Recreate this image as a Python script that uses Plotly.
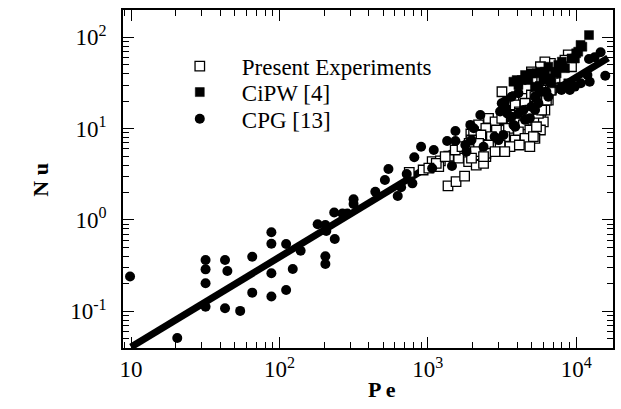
import plotly.graph_objects as go

# ---- data ----
pe_present = [750, 930, 1070, 1215, 1383, 1614, 1900, 1950, 1744, 1884, 2120, 1185, 1614, 2198,
              2460, 2375, 1368, 1550, 1770, 1140, 1310, 1530, 1700, 3970, 4408, 4990, 5400, 5740,
              3496, 3880, 4640, 5400, 6005, 3300, 3670, 4140, 4990, 5740, 2566, 2840, 3150, 3880,
              4408, 5270, 6005, 2198, 2460, 2900, 3496, 4080, 4870, 5740, 2035, 2280, 2680, 3300,
              3880, 4520, 5270, 1970, 2198, 2566, 3070, 3580, 4140, 4870, 2090, 2460, 2840, 3300,
              1970, 2375, 3160, 6300, 8840, 8400, 5850, 7200, 9300, 6800, 6150, 5270, 5740, 4520,
              4870, 4140, 5560, 6150, 6488, 6700, 6300, 7010, 6488, 6150, 6800, 6150, 5740, 4990,
              5145, 5400, 5850, 6300, 6700, 1016]
nu_present = [3.33, 3.53, 4.35, 4.45, 5.0, 5.84, 6.9, 8.75, 5.15, 4.35, 4.0, 3.85, 4.75, 5.15,
              4.95, 4.18, 2.36, 2.63, 3.03, 4.18, 4.95, 5.84, 6.35, 22.4, 21.5, 23.4, 27.8, 23.4,
              19.8, 18.2, 18.2, 18.2, 19.0, 16.0, 14.1, 15.3, 15.3, 14.7, 13.0, 11.9, 13.0, 11.9,
              11.0, 11.9, 11.9, 11.0, 10.1, 9.68, 10.1, 9.25, 9.68, 9.68, 9.25, 8.53, 8.17, 8.17,
              7.52, 7.85, 7.85, 7.52, 6.9, 6.63, 6.63, 6.35, 6.63, 6.35, 5.6, 5.38, 5.6, 5.6,
              4.75, 4.95, 25.4, 52, 64.2, 56.5, 35.6, 35.6, 47.7, 26.5, 22.4, 22.4, 28.8, 19.0,
              16.0, 14.7, 14.7, 16.0, 20.6, 52, 43.9, 40.4, 32.7, 26.5, 27.8, 54, 47.7, 42,
              8.17, 10.5, 16, 20.6, 26.5, 3.7]

pe_cipw = [12200, 11000, 10318, 9800, 10700, 10000, 9300, 8000, 7573, 7380, 6488, 6150, 5740,
           5400, 4990, 4762, 4290, 3970, 3776, 4080, 6005, 6700, 6800, 8000, 8840, 5270, 5740,
           8400, 7200, 4520]
nu_cipw = [106, 79, 69.7, 58.8, 82.6, 67, 58.8, 54.2, 49.8, 40.4, 47.7, 42, 42,
           40.4, 40.4, 34.1, 34.1, 34.1, 32.7, 30.1, 34.1, 35.6, 31.4, 28.8, 31.4, 28.8, 25.4,
           46, 42, 38.7]

pe_cpg = [9.85, 20.5, 31.8, 31.8, 31.8, 31.8, 43, 44.6, 43, 54.4, 65.6, 65.6, 88.3, 88.3, 88.3,
          88.3, 111, 111, 123, 139, 181, 204, 207, 204, 204, 236, 234, 266, 287, 316, 316, 443,
          514, 543, 627, 661, 721, 787, 811, 901, 1070, 1097, 1350, 1535, 1535, 1455, 1790, 1820,
          1935, 2040, 1970, 2260, 2375, 2820, 2995, 3070, 3150, 3236, 3300, 3310, 3430, 3670,
          3670, 3780, 3880, 4080, 4080, 4080, 4408, 4520, 4870, 4990, 5270, 5280, 5560, 5560,
          6300, 6488, 7960, 9060, 9790, 10740, 11900, 12200, 12330, 13300, 14600, 15700]
nu_cpg = [0.24, 0.051, 0.365, 0.288, 0.203, 0.112, 0.365, 0.276, 0.108, 0.101, 0.396, 0.16, 0.733,
          0.55, 0.261, 0.145, 0.546, 0.171, 0.29, 0.46, 0.90, 0.88, 0.76, 0.40, 0.33, 0.62, 1.21,
          1.18, 1.18, 1.69, 1.50, 2.04, 2.74, 3.62, 1.83, 2.28, 3.19, 2.52, 4.86, 6.35, 3.68, 5.85,
          7.33, 9.44, 7.33, 3.9, 6.63, 5.6, 11.0, 10.1, 7.52, 14.1, 6.35, 8.17, 7.5, 15.4, 19.0,
          8.53, 17.4, 19.8, 14.7, 13.5, 22.4, 11.0, 10.5, 31.4, 24.5, 14.7, 16.0, 12.5, 13.0,
          17.4, 22.4, 16, 19.0, 28.8, 25.4, 22.4, 26.5, 26.5, 28.9, 31.4, 38.7, 58, 32.7, 60.5,
          68.6, 38]

pe_fit = [10, 16400]
nu_fit = [0.0406, 59.6]

x_tickvals = [10, 100, 1000, 10000]
x_ticktext = ["10", "10<sup>2</sup>", "10<sup>3</sup>", "10<sup>4</sup>"]
y_tickvals = [0.1, 1, 10, 100]
y_ticktext = ["10<sup>-1</sup>", "10<sup>0</sup>", "10<sup>1</sup>", "10<sup>2</sup>"]

legend_names = ["Present Experiments", "CiPW [4]", "CPG [13]"]

# ---- minor tick positions (styling) ----
x_minor = [m * 10 ** k for k in range(0, 5) for m in range(2, 10)]
y_minor = [m * 10.0 ** k for k in range(-2, 3) for m in range(2, 10)]

SERIF = "Liberation Serif"

fig = go.Figure()
fig.add_trace(go.Scatter(x=pe_fit, y=nu_fit, mode="lines",
                         line=dict(color="black", width=7), showlegend=False, hoverinfo="skip"))
fig.add_trace(go.Scatter(x=pe_present, y=nu_present, mode="markers", name=legend_names[0],
                         legend="legend",
                         marker=dict(symbol="square", size=9.5, color="white",
                                     line=dict(color="black", width=1.3))))
fig.add_trace(go.Scatter(x=pe_cipw, y=nu_cipw, mode="markers", name=legend_names[1],
                         legend="legend2",
                         marker=dict(symbol="square", size=9, color="black",
                                     line=dict(color="black", width=0.5))))
fig.add_trace(go.Scatter(x=pe_cpg, y=nu_cpg, mode="markers", name=legend_names[2],
                         legend="legend3",
                         marker=dict(symbol="circle", size=10, color="black",
                                     line=dict(width=0))))

axis_common = dict(
    type="log", showline=True, linecolor="black", linewidth=1.5, mirror="allticks",
    ticks="inside", ticklen=11, tickwidth=1.3, tickcolor="black",
    showgrid=False, zeroline=False,
    tickfont=dict(family=SERIF, size=23, color="black"),
)

legend_common = dict(xanchor="left", yanchor="middle",
                     font=dict(family=SERIF, size=23, color="black"),
                     bgcolor="rgba(0,0,0,0)", borderwidth=0, itemwidth=74)

fig.update_layout(
    width=621, height=409,
    margin=dict(l=123, r=6, t=10, b=61),
    paper_bgcolor="white", plot_bgcolor="white",
    xaxis=dict(range=[0.946, 4.248], tickvals=x_tickvals, ticktext=x_ticktext,
               minor=dict(tickvals=x_minor, ticks="inside", ticklen=6, tickwidth=1,
                          tickcolor="black", showgrid=False),
               ticklabelstandoff=0, **axis_common),
    yaxis=dict(range=[-1.402, 2.300], tickvals=y_tickvals, ticktext=y_ticktext,
               minor=dict(tickvals=y_minor, ticks="inside", ticklen=6, tickwidth=1,
                          tickcolor="black", showgrid=False),
               ticklabelstandoff=10, **axis_common),
    legend=dict(x=0.071, y=0.834, **legend_common),
    legend2=dict(x=0.071, y=0.757, **legend_common),
    legend3=dict(x=0.071, y=0.678, **legend_common),
    annotations=[
        dict(text="<b>P e</b>", xref="paper", yref="paper", x=0.528, y=-0.124,
             xanchor="center", yanchor="middle", showarrow=False,
             font=dict(family=SERIF, size=22, color="black")),
        dict(text="<b>N u</b>", xref="paper", yref="paper", x=-0.17, y=0.497,
             xanchor="center", yanchor="middle", showarrow=False, textangle=-90,
             font=dict(family=SERIF, size=22, color="black")),
    ],
    showlegend=True,
)

fig.write_html("out.html")
